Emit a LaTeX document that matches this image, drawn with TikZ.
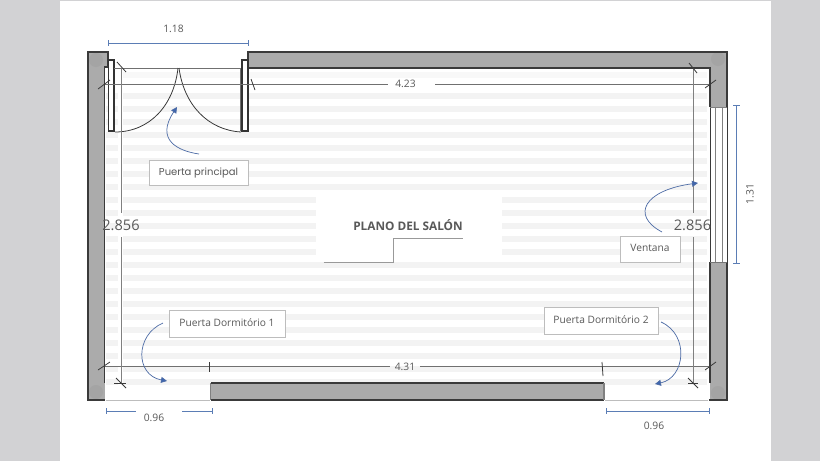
\documentclass[tikz,border=0pt]{standalone}
\usepackage{fontspec}
\setmainfont{Open Sans}
\newfontfamily\roundfont{Poppins}
\usetikzlibrary{arrows.meta}
\definecolor{pagegray}{HTML}{D2D2D4}
\definecolor{stripe}{HTML}{F3F3F3}
\definecolor{wallfill}{HTML}{ABABAB}
\definecolor{cornerfill}{HTML}{A4A4A4}
\definecolor{walldark}{HTML}{3A3A3A}
\definecolor{dimblue}{HTML}{5B7DB5}
\definecolor{arrowblue}{HTML}{3F66AE}
\definecolor{txt}{HTML}{595959}
\definecolor{dimline}{HTML}{707070}
\definecolor{boxline}{HTML}{BDBDBD}
\newcommand\lbltext[1]{\raisebox{1.5pt}{#1}\hspace{3pt}}
\tikzset{
 wall/.style={fill=wallfill,draw=none},
 wallline/.style={draw=walldark,line width=1.6pt},
 doorline/.style={draw=black!80,line width=1.5pt,fill=white},
 dim/.style={draw=dimline,line width=0.9pt},
 tick/.style={draw=walldark,line width=0.8pt},
 bluedim/.style={draw=dimblue,line width=0.9pt},
 callout/.style={draw=arrowblue!80!gray,line width=0.7pt,-{Triangle[length=6pt,width=6pt,fill=arrowblue]}},
 labelbox/.style={draw=boxline,line width=0.7pt,fill=white,text=txt,inner sep=0pt,font=\fontsize{10.2}{12}\selectfont},
 dimtext/.style={text=txt,font=\fontsize{10.3}{12}\selectfont,inner sep=1pt},
 bigdim/.style={text=txt,font=\fontsize{14.6}{17}\selectfont,inner sep=0pt},
}
\begin{document}
\begin{tikzpicture}[x=1pt,y=-1pt]
\useasboundingbox (0,0) rectangle (820,461);
\fill[pagegray] (0,0) rectangle (820,461);
\fill[white] (60,1) rectangle (771,461);
% stripes
\foreach \k in {0,...,22}{
  \pgfmathsetmacro{\yy}{93+13*\k}
  \fill[stripe] (106,\yy) rectangle (118,\yy+6);
  \fill[stripe] (123,\yy) rectangle (707,\yy+6);
}
\fill[stripe!60] (123,72) rectangle (707,78);
\fill[white] (316,196) rectangle (502,262);
% walls
\fill[wall] (88,52) rectangle (108,68);
\fill[wall] (88,68) rectangle (104.5,400);
\fill[wall] (248,52) rectangle (727,68);
\fill[wall] (710,68) rectangle (727,107);
\fill[wall] (710,262) rectangle (727,400);
\fill[wall] (211,383) rectangle (604,400);
\fill[cornerfill] (96,60) circle (7);
\fill[cornerfill] (718,59) circle (7);
\fill[cornerfill] (96,392) circle (7);
\fill[cornerfill] (718,393) circle (7);
\draw[wallline] (108,66) -- (108,52) -- (88,52) -- (88,400) -- (105,400);
\draw[wallline] (104.5,325) -- (104.5,67) -- (108,67);
\draw[wallline] (104.5,325) -- (104.5,383);
\draw[wallline] (248,68) -- (248,52) -- (727,52) -- (727,107);
\draw[wallline] (248,68) -- (710,68) -- (710,107);
\draw[wallline] (727,262) -- (727,400) -- (709,400);
\draw[wallline] (710,262) -- (710,383);
\draw[wallline] (211,383) -- (604,383);
\draw[draw=walldark,line width=1.2pt] (211,400) -- (604,400);
\draw[draw=gray,line width=1.5pt] (210.5,383) -- (210.5,400);
\draw[draw=gray,line width=1.5pt] (604,383) -- (604,400);
\draw[draw=boxline,line width=0.8pt] (106,400) -- (210,400);
\draw[draw=boxline,line width=0.8pt] (605,400) -- (708,400);
% window
\draw[draw=walldark,line width=0.9pt] (710,107) -- (710,262) (727,107) -- (727,262);
\draw[draw=gray,line width=0.6pt] (710,107) -- (727,107);
\draw[draw=gray,line width=0.7pt] (715,107) -- (715,262) (722,107) -- (722,262);
\draw[draw=walldark!70,line width=0.7pt] (710,262) -- (727,262);
% doors
\draw[doorline] (108.5,60) rectangle (114,131);
\draw[doorline] (242,60) rectangle (248,131);
\draw[draw=dimline,line width=0.9pt] (114,68) -- (240,68) -- (240,131);
\draw[draw=walldark,line width=0.8pt] (115,132) .. controls (150,132) and (174,105) .. (178,68);
\draw[draw=walldark,line width=0.8pt] (179,68) .. controls (184,105) and (208,130) .. (241,132);
% interior dimension lines
\draw[dim] (105,84) -- (388,84);
\draw[dim] (435,84) -- (710,84);
\draw[dim] (105,366.5) -- (390,366.5);
\draw[dim] (420,366.5) -- (710,366.5);
\draw[dim,draw=gray] (121,68) -- (121,213) (121,237) -- (121,383);
\draw[dim,draw=gray] (693,68) -- (693,213) (693,237) -- (693,383);
% ticks
\draw[tick] (98,89) -- (110,80);
\draw[tick] (117,62) -- (126,72);
\draw[tick] (251,79) -- (255,90);
\draw[tick] (689,63) -- (697,73);
\draw[tick] (705,88) -- (716,80);
\draw[tick] (98,370) -- (110,362);
\draw[tick] (116,378) -- (126,388);
\draw[tick] (209,362) -- (209,372);
\draw[tick] (602,362) -- (603,376);
\draw[tick] (705,370) -- (716,362);
\draw[tick] (688,378) -- (698,388);
\draw[tick] (114,383) -- (126,383);
\draw[tick] (688,383) -- (698,383);
% blue dimensions
\draw[bluedim] (108,43) -- (248,43) (108,40) -- (108,46) (248,40) -- (248,46);
\draw[bluedim] (736.5,105) -- (736.5,263) (733,105) -- (740,105) (733,263) -- (740,263);
\draw[bluedim] (106,411) -- (136,411) (182,411) -- (212,411) (106,408) -- (106,414) (212,408) -- (212,414);
\draw[bluedim] (606,411) -- (709,411) (606,408) -- (606,414) (709,408) -- (709,414);
% texts
\node[dimtext] (t118) at (173.5,29) {1.18};
\node[dimtext] (t423) at (405.5,84) {4.23};
\node[dimtext] (t431) at (405,367) {4.31};
\node[dimtext,rotate=90] (t131) at (750,194) {1.31};
\node[dimtext] (t096a) at (154,418) {0.96};
\node[dimtext] (t096b) at (654,426) {0.96};
\node[bigdim] (tl) at (121,225) {2.856};
\node[bigdim] (tr) at (692.5,225) {2.856};
% title
\node[text=txt,font=\bfseries\fontsize{11.8}{14}\selectfont,inner sep=0pt] (title) at (408,225.5) {PLANO DEL SALÓN};
\draw[draw=gray!80,line width=0.8pt] (323.5,262) -- (393,262) -- (393,238) -- (463,238);
% labels
\node[labelbox,minimum width=99pt,minimum height=25pt,font=\roundfont\fontsize{10}{12}\selectfont] (lp) at (198.5,172.5) {\lbltext{Puerta principal}};
\node[labelbox,minimum width=116pt,minimum height=27pt] (ld1) at (227,323.5) {\lbltext{Puerta Dormitório 1}};
\node[labelbox,minimum width=114pt,minimum height=27pt] (ld2) at (601,320.5) {\lbltext{Puerta Dormitório 2}};
\node[labelbox,minimum width=60pt,minimum height=26pt] (lv) at (650,249) {\lbltext{Ventana}};
% callouts
\coordinate (ap) at (199,154);
\coordinate (ap2) at (177,107);
\draw[callout] (ap) .. controls (178,151) and (155,140) .. (ap2);
\coordinate (av) at (662,232);
\coordinate (av2) at (698,183);
\draw[callout] (av) .. controls (630,215) and (645,190) .. (av2);
\coordinate (a1) at (163,323);
\coordinate (a12) at (167,381);
\draw[callout] (a1) .. controls (135,335) and (135,375) .. (a12);
\coordinate (a2) at (661,322);
\coordinate (a22) at (655,384);
\draw[callout] (a2) .. controls (690,335) and (685,378) .. (a22);
\end{tikzpicture}
\end{document}
